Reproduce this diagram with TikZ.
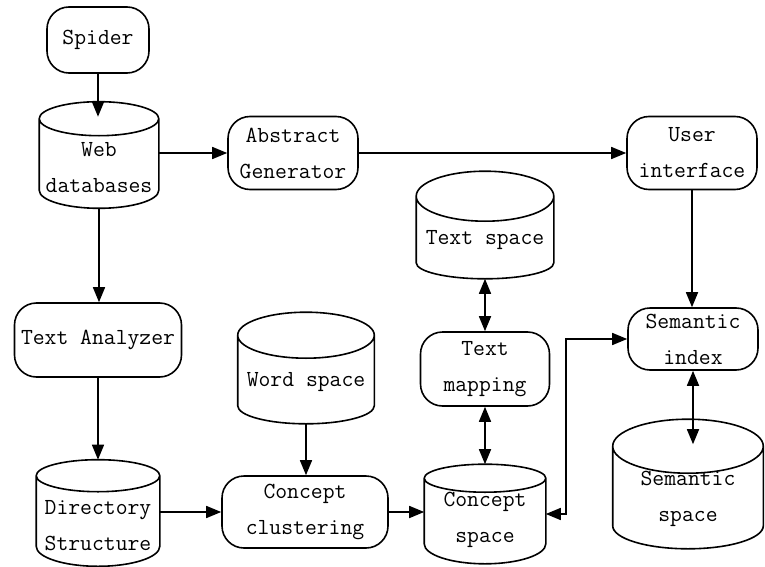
\documentclass[tikz,border=0pt]{standalone}
\usetikzlibrary{arrows.meta,calc}

% outline of a database drum: #1 node, #2 half height of the lid, #3 sag of the base
\newcommand\dbshape[3]{%
  \draw let \p1=(#1.west), \p2=(#1.east), \n1={(\x2-\x1)/2} in
    ([yshift=-#2pt]#1.north) ellipse [x radius=\n1, y radius=#2pt]
    ([yshift=-#2pt]#1.north west) -- ([yshift=#3pt]#1.south west)
    arc [start angle=180, end angle=360, x radius=\n1, y radius=#3pt]
    -- ([yshift=-#2pt]#1.north east);}

\begin{document}
\begin{tikzpicture}[
  x=1pt, y=-1pt,
  font=\ttfamily\fontsize{23}{36}\selectfont,
  every path/.style={line width=1.6pt},
  >={Triangle[length=15pt,width=12pt]},
  proc/.style={draw, rounded corners=22pt, align=center, inner sep=0pt},
  db/.style 2 args={inner sep=0pt,
    append after command={\pgfextra{\dbshape{\tikzlastnode}{#1}{#2}}}},
  dbtext/.style={align=center, yshift=-#1pt}
]
  \useasboundingbox (0,0) rectangle (765,567);

  % top row
  \node[proc, minimum width=102pt, minimum height=66pt] (spider) at (98,40) {Spider};
  \node[db={17}{18}, minimum width=118pt, minimum height=105pt,
        label={[dbtext=13]center:Web\\databases}] (web) at (99,155) {};
  \node[proc, minimum width=130pt, minimum height=73pt] (abs) at (293,153) {Abstract\\Generator};
  \node[proc, minimum width=130pt, minimum height=73pt] (user) at (692,153) {User\\interface};

  % middle row
  \node[db={25}{16}, minimum width=136pt, minimum height=106pt,
        label={[dbtext=15]center:Text space}] (tspace) at (485,225) {};
  \node[proc, minimum width=167pt, minimum height=74pt] (analyzer) at (98,340) {Text Analyzer};
  \node[db={23}{18}, minimum width=135pt, minimum height=110pt,
        label={[dbtext=14]center:Word space}] (wspace) at (306,368) {};
  \node[proc, minimum width=129pt, minimum height=74pt] (tmap) at (485,369) {Text\\mapping};
  \node[proc, minimum width=130pt, minimum height=62pt] (sindex) at (693,339) {Semantic\\index};

  % bottom row
  \node[db={16}{20}, minimum width=122pt, minimum height=105pt,
        label={[dbtext=13]center:Directory\\Structure}] (dir) at (98,513) {};
  \node[proc, minimum width=166pt, minimum height=72pt] (clust) at (305,512) {Concept\\clustering};
  \node[db={14}{20}, minimum width=120pt, minimum height=98pt,
        label={[dbtext=6]center:Concept\\space}] (cspace) at (485,514) {};
  \node[db={27}{23}, minimum width=149pt, minimum height=128pt,
        label={[dbtext=15]center:Semantic\\space}] (sspace) at (688,484) {};

  \draw[->] (spider) -- ([yshift=-15pt]spider.south |- web.north);
  \draw[->] (web.east |- abs.west) -- (abs.west);
  \draw[->] (abs) -- (user);
  \draw[->] (web.south) -- (web.south |- analyzer.north);
  \draw[->] (analyzer) -- (analyzer |- dir.north);
  \draw[->] (dir.east |- clust.west) -- (clust.west);
  \draw[->] (wspace) -- (wspace |- clust.north);
  \draw[->] (clust) -- (clust -| cspace.west);
  \draw[<->] (tspace) -- (tmap);
  \draw[<->] (tmap) -- (cspace);
  \draw[->] (user) -- (user |- sindex.north);
  \draw[<->] (cspace.east) -- ++(20,0) |- (sindex.west);
  \draw[<->] (sindex.south) -- ([yshift=-25pt]sindex.south |- sspace.north);
\end{tikzpicture}
\end{document}
